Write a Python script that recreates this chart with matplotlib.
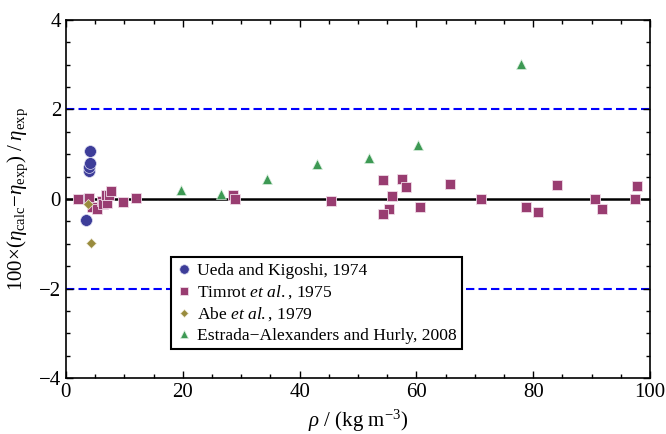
import matplotlib
matplotlib.use("Agg")
import matplotlib.pyplot as plt
from matplotlib.ticker import MultipleLocator

plt.rcParams['font.family'] = ['Liberation Serif', 'DejaVu Serif']
plt.rcParams['mathtext.fontset'] = 'custom'
plt.rcParams['mathtext.rm'] = 'Liberation Serif'
plt.rcParams['mathtext.it'] = 'Liberation Serif:italic'
plt.rcParams['mathtext.bf'] = 'Liberation Serif:bold'

# Data
ueda_rho = [3.5, 3.5, 3.9, 4.0, 4.1, 4.2]
ueda_dev = [-0.48, 0.0, 0.63, 0.72, 0.81, 1.07]

timrot_rho = [2.0, 3.9, 4.5, 5.4, 6.1, 6.3, 7.0, 6.85, 7.4, 7.8, 9.7, 12.0,
              28.6, 29.0, 45.3, 54.2, 55.8, 55.3, 54.3, 57.6, 58.2, 60.6, 65.8,
              71.1, 78.7, 80.8, 84.0, 90.6, 91.7, 97.4, 97.8]
timrot_dev = [0.0, 0.03, -0.19, -0.23, -0.04, -0.11, -0.10, 0.09, 0.09, 0.18, -0.07, 0.03,
              0.08, -0.01, -0.04, 0.43, 0.07, -0.22, -0.34, 0.45, 0.27, -0.18, 0.33,
              -0.01, -0.19, -0.28, 0.31, -0.01, -0.22, 0.0, 0.28]

abe_rho = [3.8, 4.3]
abe_dev = [-0.12, -0.98]

estrada_rho = [19.7, 26.5, 34.4, 42.9, 51.9, 60.2, 77.9]
estrada_dev = [0.19, 0.11, 0.45, 0.79, 0.91, 1.21, 3.02]

c_ueda = (0.24, 0.24, 0.6)
c_timrot = (0.6, 0.24, 0.442)
c_abe = (0.6, 0.547, 0.24)
c_estrada = (0.24, 0.6, 0.33)

fig = plt.figure(figsize=(6.66, 4.34), dpi=100)
ax = fig.add_axes([0.099, 0.129, 0.877, 0.825])

ax.axhline(0.0, color='black', linewidth=1.8, zorder=1)
ax.axhline(2.0, color='blue', linewidth=1.5, linestyle=(0, (4, 2)), zorder=1)
ax.axhline(-2.0, color='blue', linewidth=1.5, linestyle=(0, (4, 2)), zorder=1)

ax.plot(ueda_rho, ueda_dev, 'o', ms=8.5, color=c_ueda, mec='#dcdcf0', mew=0.5,
        label='Ueda and Kigoshi, 1974', zorder=3)
ax.plot(timrot_rho, timrot_dev, 's', ms=6.5, color=c_timrot, mec='#f0dce8', mew=0.6,
        label=r'Timrot $\it{et\ al.}$, 1975', zorder=3)
ax.plot(abe_rho, abe_dev, 'D', ms=4.8, color=c_abe, mec='#f0ecdc', mew=0.5,
        label=r'Abe $\it{et\ al.}$, 1979', zorder=4)
ax.plot(estrada_rho, estrada_dev, '^', ms=6.5, color=c_estrada, mec='#dcf0e0', mew=0.5,
        label='Estrada\u2212Alexanders and Hurly, 2008', zorder=3)

ax.set_xlim(0, 100)
ax.set_ylim(-4, 4)
ax.xaxis.set_major_locator(MultipleLocator(20))
ax.xaxis.set_minor_locator(MultipleLocator(5))
ax.yaxis.set_major_locator(MultipleLocator(2))
ax.yaxis.set_minor_locator(MultipleLocator(0.5))
ax.tick_params(which='both', direction='in', top=True, right=True, labelsize=15, width=1)
ax.tick_params(which='major', length=5)
ax.tick_params(which='minor', length=3)
for s in ax.spines.values():
    s.set_linewidth(1.2)

ax.set_xlabel(r'$\rho$ / (kg m$^{-3}$)', fontsize=15)
ax.set_ylabel(r'$100{\times}(\eta_{\mathrm{calc}}{-}\eta_{\mathrm{exp}})\ /\ \eta_{\mathrm{exp}}$',
              fontsize=15, labelpad=6)

leg = ax.legend(loc='lower left', bbox_to_anchor=(0.18, 0.081), borderaxespad=0,
                fontsize=12.6, frameon=True, fancybox=False, edgecolor='black',
                framealpha=1, borderpad=0.3, handletextpad=0.3, handlelength=0.9,
                labelspacing=0.25, markerscale=0.8)
leg.get_frame().set_linewidth(1.5)
leg.set_zorder(5)

fig.savefig('out.png', dpi=100)
